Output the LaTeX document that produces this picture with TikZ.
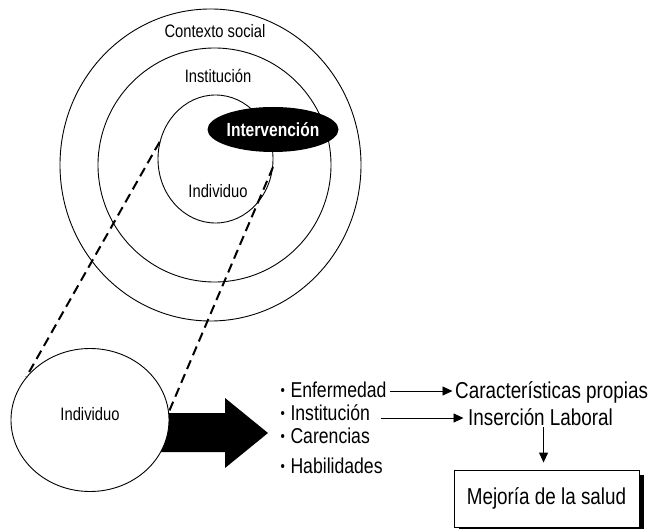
\documentclass[tikz,border=0pt]{standalone}
\usepackage{fontspec}
\setmainfont{Liberation Sans}[FakeStretch=0.82]
\usetikzlibrary{shapes.geometric,arrows.meta,shadows}

\newcommand{\dotitem}{\raisebox{1.5pt}{\fontsize{15}{15}\selectfont •}\hspace{5.5pt}}

\begin{document}
\begin{tikzpicture}[x=1pt,y=-1pt,
    ring/.style={draw, ellipse, line width=0.9pt, inner sep=0pt},
    txt/.style={anchor=base, inner sep=1.5pt, font=\fontsize{18}{20}\selectfont},
    item/.style={anchor=base west, inner sep=1.5pt, font=\fontsize{21.5}{23}\selectfont},
    big/.style={inner sep=1.5pt, font=\fontsize{23}{25}\selectfont},
    link/.style={dash pattern=on 9.5pt off 5.5pt, line width=2pt},
    arr/.style={-{Triangle[length=10pt,width=9pt]}, line width=0.9pt}]
    \useasboundingbox (0,0) rectangle (655,529);

    % the three rings
    \node[ring, minimum width=301pt, minimum height=312pt] (ctx) at (210.5,165) {};
    \node[ring, minimum width=233pt, minimum height=234pt] (inst) at (214.5,165) {};
    \node[ring, minimum width=115pt, minimum height=128pt] (ind) at (215.5,159) {};
    \node[ellipse, fill=black, inner sep=0pt, minimum width=110pt, minimum height=45pt,
          text=white, font=\bfseries\fontsize{19}{21}\selectfont] (interv) at (273,129.5) {Intervención};
    \node[txt] (lctx) at (215,38) {Contexto social};
    \node[txt] (linst) at (218,83) {Institución};
    \node[txt] (lind) at (218,198) {Individuo};

    % big arrow, then the individual
    \fill (160,413) -- (225,413) -- (225,398) -- (268,433) -- (225,468) -- (225,452) -- (160,452) -- cycle;
    \node[ring, fill=white, minimum width=158pt, minimum height=143pt] (indiv) at (90,420) {};
    \node[txt] (lindiv) at (90,420) {Individuo};

    \draw[link] (ind.163) -- (indiv.146);
    \draw[link] (ind.-8) -- (indiv.6);

    % list
    \node[item] (enf) at (279,397) {\dotitem Enfermedad};
    \node[item] (instit) at (279,420) {\dotitem Institución};
    \node[item] (caren) at (279,443) {\dotitem Carencias};
    \node[item] (habil) at (279,473) {\dotitem Habilidades};

    \node[big, anchor=base west] (prop) at (453.5,398) {Características propias};
    \node[big, anchor=base west] (lab) at (466.5,425) {Inserción Laboral};
    \node[big, draw, line width=0.9pt, fill=white, minimum width=185pt, minimum height=57pt,
          drop shadow={shadow xshift=4.5pt, shadow yshift=-4.5pt, fill=black, opacity=1}] (salud) at (546.5,498.5) {Mejoría de la salud};

    \draw[arr] ([shift={(2,-6)}]enf.base east) -- ([shift={(-1,-7)}]prop.base west);
    \draw[arr] ([shift={(9,-2)}]instit.base east) -- ([shift={(-3,-7)}]lab.base west);
    \coordinate (dn) at ([shift={(3,2)}]lab.base);
    \draw[arr, shorten >=7pt] (dn) -- (dn |- salud.north);
\end{tikzpicture}
\end{document}
